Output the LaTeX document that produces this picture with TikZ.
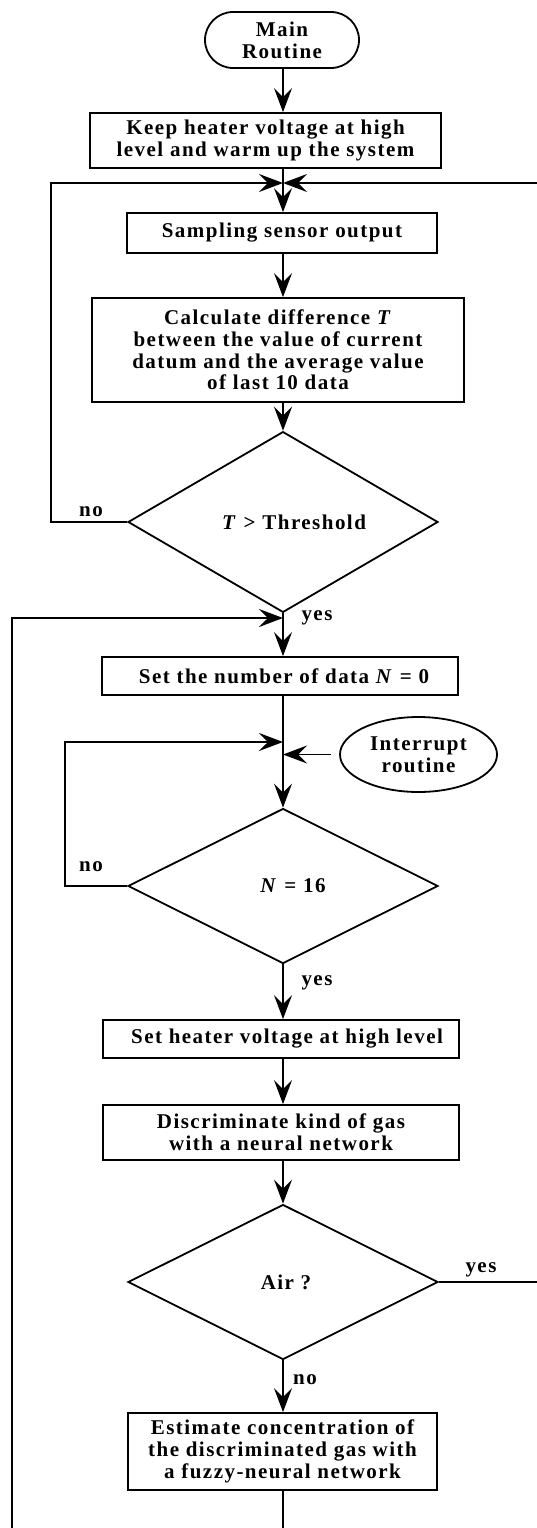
\documentclass[tikz,border=0pt]{standalone}
\usepackage{fontspec}
\setmainfont{Liberation Serif}[LetterSpace=7]
\usetikzlibrary{shapes.geometric,shapes.misc,arrows.meta}
\begin{document}
\begin{tikzpicture}[x=1pt,y=-1pt,
  font=\fontsize{21}{21.7}\selectfont\bfseries,
  line width=1.8pt,
  arr/.style={-{Stealth[length=24pt,width=18pt,inset=9pt]}},
  box/.style={draw,rectangle,inner sep=0pt,align=center},
  dec/.style={draw,diamond,inner sep=0pt,minimum width=310pt,minimum height=155pt},
  lbl/.style={inner sep=0pt}
]
\useasboundingbox (0,0) rectangle (536,1528);
\coordinate (ax) at (283,0);
\coordinate (L1) at (51,0);
\coordinate (L2) at (12,0);
\coordinate (L3) at (65,0);
\coordinate (R) at (540,0);
\coordinate (bot) at (0,1545);

\node[draw, rounded rectangle, minimum width=154pt, minimum height=56pt, inner sep=0pt, align=center] (main) at (282,40) {Main\\Routine};
\node[box, minimum width=351pt, minimum height=55pt] (b1) at (265.5,140.5) {Keep heater voltage at high\\level and warm up the system};
\coordinate (m1) at (283,183);
\node[box, minimum width=310pt, minimum height=40pt] (b2) at (282,233) {Sampling sensor output};
\node[box, minimum width=372pt, minimum height=104pt] (b3) at (278,350) {Calculate difference \textit{T}\\between the value of current\\datum and the average value\\of last 10 data};
\node[dec] (d1) at (283,522) {\hspace*{22pt}\textit{T} > Threshold};
\node[lbl] (no1) at (91,512) {no};
\coordinate (m2) at (283,618);
\node[lbl] (yes1) at (317,618) {yes};
\node[box, minimum width=356pt, minimum height=38pt] (b4) at (280,676) {\hspace*{8pt}Set the number of data \textit{N} = 0};
\coordinate (m3) at (283,742);
\node[draw, ellipse, minimum width=157pt, minimum height=75pt, inner sep=0pt, align=center] (intr) at (418.5,754.5) {Interrupt\\routine};
\node[dec] (d2) at (283,886) {\hspace*{20pt}\textit{N} = 16};
\node[lbl] (no2) at (91,867) {no};
\node[lbl] (yes2) at (317,983) {yes};
\node[box, minimum width=356pt, minimum height=38pt] (b5) at (281,1039) {\hspace*{12pt}Set heater voltage at high level};
\node[box, minimum width=356pt, minimum height=55pt] (b6) at (281,1132.5) {Discriminate kind of gas\\with a neural network};
\node[dec] (d3) at (283,1282) {\hspace*{6pt}Air ?};
\node[lbl] (yes3) at (481,1270) {yes};
\node[lbl] (no3) at (305,1380) {no};
\node[box, minimum width=309pt, minimum height=77pt] (b7) at (282.5,1451.5) {Estimate concentration of\\the discriminated gas with\\a fuzzy-neural network};

% main flow
\draw[arr] (main.south -| ax) -- (b1.north -| ax);
\draw[arr] (b1.south -| ax) -- (b2.north -| ax);
\draw[arr] (b2.south -| ax) -- (b3.north -| ax);
\draw[arr] (b3.south -| ax) -- (d1.north);
\draw[arr] (d1.south) -- (b4.north -| ax);
\draw[arr] (b4.south -| ax) -- (d2.north);
\draw[arr] (d2.south) -- (b5.north -| ax);
\draw[arr] (b5.south -| ax) -- (b6.north -| ax);
\draw[arr] (b6.south -| ax) -- (d3.north);
\draw[arr] (d3.south) -- (b7.north -| ax);
% loops
\draw[arr] (d1.west) -- (d1.west -| L1) -- (m1 -| L1) -- (m1);
\draw[arr] (d3.east) -- (d3.east -| R) -- (m1 -| R) -- (m1);
\draw[arr] (d2.west) -- (d2.west -| L3) -- (m3 -| L3) -- (m3);
\draw[arr] (b7.south -| ax) -- (bot -| ax) -- (bot -| L2) -- (m2 -| L2) -- (m2);
\draw[arr, shorten <=8pt] (intr.west) -- (intr.west -| ax);
\end{tikzpicture}
\end{document}
